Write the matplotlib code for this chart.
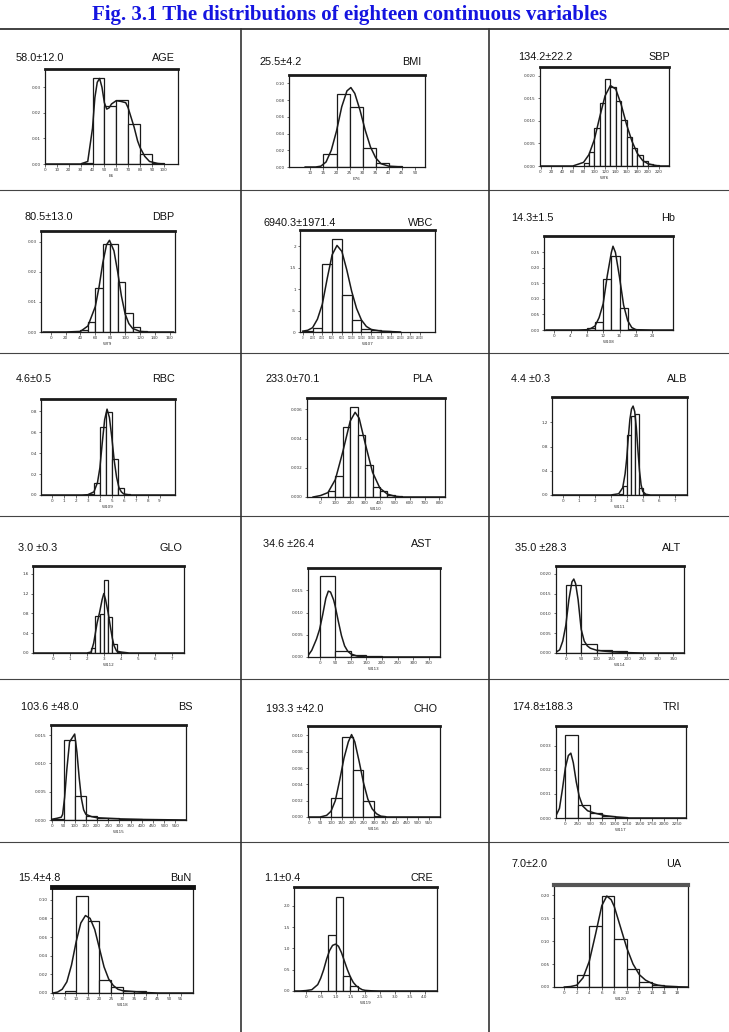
import numpy as np
import matplotlib
matplotlib.use("Agg")
import matplotlib.pyplot as plt
from matplotlib.lines import Line2D

# ---------------- data ----------------
title = "Fig. 3.1 The distributions of eighteen continuous variables"

names = ["AGE", "BMI", "SBP", "DBP", "WBC", "Hb", "RBC", "PLA", "ALB",
         "GLO", "AST", "ALT", "BS", "CHO", "TRI", "BuN", "CRE", "UA"]
stats = ["58.0±12.0", "25.5±4.2", "134.2±22.2", "80.5±13.0", "6940.3±1971.4",
         "14.3±1.5", "4.6±0.5", "233.0±70.1", "4.4 ±0.3", "3.0 ±0.3",
         "34.6 ±26.4", "35.0 ±28.3", "103.6 ±48.0", "193.3 ±42.0",
         "174.8±188.3", "15.4±4.8", "1.1±0.4", "7.0±2.0"]
xlabels = ["E6", "E76", "W76", "W79", "W107", "W108", "W109", "W110", "W111",
           "W112", "W113", "W114", "W115", "W116", "W117", "W118", "W119", "W120"]

age_edges = [30, 40, 50, 60, 70, 80, 90, 100]
age_dens = [0.0005, 0.0337, 0.0229, 0.0249, 0.0156, 0.0041, 0.0004]
age_cx = [0, 30, 36, 40, 42, 44, 46, 48, 50, 52, 54, 56, 60, 64, 68, 70, 72, 75, 78, 80, 84, 88, 95, 100]
age_cy = [0, 0, 0.001, 0.014, 0.026, 0.032, 0.0335, 0.030, 0.024, 0.0215, 0.022, 0.0235, 0.0248,
          0.0245, 0.024, 0.022, 0.019, 0.0145, 0.009, 0.0065, 0.003, 0.001, 0.0002, 0]

bmi_edges = [15, 20, 25, 30, 35, 40, 45]
bmi_dens = [0.0152, 0.0872, 0.072, 0.0232, 0.0048, 0.001]
bmi_cx = [8, 12, 14, 16, 18, 20, 22, 24, 25.5, 27, 29, 31, 33, 35, 37, 40, 45]
bmi_cy = [0, 0, 0.001, 0.006, 0.02, 0.043, 0.072, 0.091, 0.095, 0.088, 0.068, 0.044, 0.024, 0.011, 0.004, 0.001, 0]

sbp_edges = [80, 90, 100, 110, 120, 130, 140, 150, 160, 170, 180, 190, 200, 210, 220]
sbp_dens = [0.0007, 0.003, 0.0084, 0.014, 0.0192, 0.0175, 0.0144, 0.0102, 0.0064, 0.0039,
            0.0024, 0.0012, 0.0004, 0.0002]
sbp_cx = [0, 60, 80, 90, 100, 110, 120, 130, 140, 150, 160, 170, 180, 190, 200, 210, 220, 238]
sbp_cy = [0, 0, 0.0008, 0.0025, 0.0058, 0.0108, 0.0155, 0.0178, 0.017, 0.0136, 0.0092, 0.0055,
          0.0028, 0.0012, 0.0005, 0.0002, 0, 0]

dbp_edges = [40, 50, 60, 70, 80, 90, 100, 110, 120, 130]
dbp_dens = [0.0007, 0.0034, 0.0148, 0.0292, 0.0292, 0.0166, 0.0062, 0.0017, 0.0004]
dbp_cx = [-10, 20, 40, 50, 60, 65, 70, 75, 79, 85, 90, 95, 100, 105, 110, 120, 130, 165]
dbp_cy = [0, 0, 0.0002, 0.002, 0.0085, 0.015, 0.023, 0.029, 0.0305, 0.027, 0.02, 0.012, 0.006,
          0.0028, 0.0012, 0.0002, 0, 0]

wbc_edges = [0, 2000, 4000, 6000, 8000, 10000, 12000, 14000, 16000, 18000]
wbc_dens = [0.02, 0.10, 1.59, 2.18, 0.87, 0.27, 0.06, 0.04, 0.03]          # x 1e-4
wbc_cx = [0, 1000, 2000, 3000, 4000, 5000, 6000, 7000, 8000, 9000, 10000, 11000, 12000,
          13000, 14000, 16000, 18000, 20000]
wbc_cy = [0.02, 0.04, 0.1, 0.3, 0.65, 1.25, 1.8, 2.02, 1.88, 1.45, 0.95, 0.55, 0.28, 0.13,
          0.06, 0.02, 0.01, 0]

hb_edges = [8, 10, 12, 14, 16, 18, 20]
hb_dens = [0.0075, 0.027, 0.163, 0.240, 0.070, 0.002]
hb_cx = [-2, 6, 8, 9, 10, 11, 12, 13, 14, 14.4, 15, 16, 17, 18, 19, 20, 24, 29]
hb_cy = [0, 0, 0.001, 0.005, 0.013, 0.04, 0.085, 0.175, 0.25, 0.27, 0.25, 0.17, 0.08, 0.03,
         0.008, 0.001, 0, 0]

rbc_edges = [3.0, 3.5, 4.0, 4.5, 5.0, 5.5, 6.0, 6.5]
rbc_dens = [0.01, 0.111, 0.654, 0.797, 0.346, 0.067, 0.01]
rbc_cx = [-0.9, 2.5, 3, 3.5, 3.8, 4, 4.2, 4.4, 4.6, 4.8, 5, 5.2, 5.4, 5.6, 5.8, 6, 6.5, 10.3]
rbc_cy = [0, 0, 0.003, 0.03, 0.12, 0.26, 0.5, 0.72, 0.82, 0.74, 0.55, 0.33, 0.17, 0.07, 0.03,
          0.01, 0, 0]

pla_edges = [50, 100, 150, 200, 250, 300, 350, 400, 450, 500, 550]
pla_dens = [0.00043, 0.00146, 0.00478, 0.00617, 0.00423, 0.00222, 0.00071, 0.00039, 0.00016, 0.00005]
pla_cx = [-50, 0, 50, 100, 150, 200, 233, 260, 300, 350, 400, 450, 500, 550, 838]
pla_cy = [0, 0.0001, 0.0003, 0.0012, 0.0031, 0.0052, 0.0058, 0.0054, 0.0037, 0.0017, 0.0006,
          0.0002, 0.00005, 0, 0]

alb_edges = [3.5, 3.75, 4.0, 4.25, 4.5, 4.75, 5.0, 5.25]
alb_dens = [0.01, 0.143, 0.997, 1.31, 1.345, 0.116, 0.01]
alb_cx = [-0.67, 3.0, 3.5, 3.75, 3.9, 4.0, 4.1, 4.2, 4.3, 4.4, 4.5, 4.6, 4.7, 4.8, 4.9, 5.0,
          5.2, 5.5, 7.77]
alb_cy = [0, 0, 0.02, 0.12, 0.35, 0.6, 0.95, 1.25, 1.42, 1.47, 1.38, 1.12, 0.75, 0.4, 0.17,
          0.06, 0.01, 0, 0]

glo_edges = [2.25, 2.5, 2.75, 3.0, 3.25, 3.5, 3.75, 4.0, 4.25]
glo_dens = [0.10, 0.746, 0.793, 1.479, 0.726, 0.188, 0.03, 0.01]
glo_cx = [-1.18, 2.0, 2.25, 2.4, 2.5, 2.6, 2.75, 2.9, 3.0, 3.1, 3.25, 3.4, 3.5, 3.6, 3.75,
          4.0, 4.25, 4.5, 7.73]
glo_cy = [0, 0, 0.02, 0.2, 0.4, 0.6, 0.82, 1.08, 1.2, 1.08, 0.82, 0.5, 0.3, 0.15, 0.04, 0.02,
          0.01, 0, 0]

ast_edges = [0, 50, 100, 150, 200, 250, 300, 350, 400]
ast_dens = [0.0183, 0.00144, 0.00045, 0.00015, 0.0001, 0.00005, 0.00003, 0.00002]
ast_cx = [-37, -25, -10, 0, 10, 20, 28, 35, 45, 50, 60, 70, 80, 90, 100, 120, 150, 385]
ast_cy = [0.0003, 0.0015, 0.004, 0.0062, 0.0095, 0.0132, 0.0148, 0.0146, 0.0128, 0.0114,
          0.008, 0.0048, 0.0025, 0.0013, 0.0007, 0.0002, 0, 0]

alt_edges = [0, 50, 100, 150, 200, 250]
alt_dens = [0.0172, 0.0024, 0.0007, 0.0004, 0.0001]
alt_cx = [-32, -20, -10, 0, 10, 20, 26, 32, 40, 50, 60, 70, 80, 100, 120, 150, 200, 250, 385]
alt_cy = [0.0002, 0.0008, 0.003, 0.007, 0.0135, 0.018, 0.0187, 0.0175, 0.0135, 0.006, 0.003,
          0.0018, 0.0012, 0.0007, 0.0005, 0.0003, 0.0001, 0, 0]

bs_edges = [0, 50, 100, 150, 200, 250, 300, 350, 400, 450, 500, 550, 600]
bs_dens = [0.0002, 0.01415, 0.0043, 0.0007, 0.0004, 0.0004, 0.0001, 0.0001, 0.00005,
           0.00005, 0.00003, 0.00003]
bs_cx = [-6, 20, 40, 46, 55, 65, 77, 90, 100, 110, 120, 130, 140, 150, 175, 200, 250, 300, 400, 598]
bs_cy = [0.0001, 0.0003, 0.0005, 0.001, 0.004, 0.009, 0.0138, 0.0146, 0.0152, 0.012, 0.0075,
         0.0038, 0.0018, 0.001, 0.0006, 0.0004, 0.0003, 0.0002, 0.0001, 0]

cho_edges = [50, 100, 150, 200, 250, 300, 350]
cho_dens = [0.00002, 0.00234, 0.00984, 0.00582, 0.00193, 0.00016]
cho_cx = [-6, 50, 80, 100, 120, 140, 160, 180, 195, 210, 230, 250, 270, 290, 310, 330, 360, 603]
cho_cy = [0, 0, 0.0002, 0.0007, 0.002, 0.0045, 0.0072, 0.0092, 0.0101, 0.0092, 0.0068, 0.0042,
          0.0022, 0.001, 0.0004, 0.0001, 0, 0]

tri_edges = [0, 250, 500, 750, 1000, 1250]
tri_dens = [0.00346, 0.00053, 0.0002, 0.0001, 0.00004]
tri_cx = [-190, -120, -60, 0, 60, 110, 160, 220, 280, 350, 450, 600, 800, 1000, 1300, 2440]
tri_cy = [0.0001, 0.0004, 0.0012, 0.0021, 0.0026, 0.0027, 0.0023, 0.0015, 0.0009, 0.0005,
          0.0003, 0.0002, 0.0001, 0.00005, 0, 0]

bun_edges = [5, 10, 15, 20, 25, 30, 35, 40, 45]
bun_dens = [0.0025, 0.1036, 0.0768, 0.0143, 0.006, 0.002, 0.0018, 0.0003]
bun_cx = [-0.4, 0, 2, 4, 6, 8, 10, 12, 14, 16, 18, 20, 22, 24, 26, 28, 30, 35, 40, 45, 60]
bun_cy = [0, 0, 0.001, 0.004, 0.012, 0.03, 0.055, 0.075, 0.083, 0.08, 0.068, 0.048, 0.028,
          0.015, 0.008, 0.004, 0.0025, 0.0015, 0.0005, 0, 0]

cre_edges = [0.75, 1.0, 1.25, 1.5, 1.75]
cre_dens = [1.31, 2.21, 0.36, 0.117]
cre_cx = [-0.4, -0.2, 0, 0.2, 0.4, 0.5, 0.6, 0.7, 0.8, 0.9, 1.0, 1.1, 1.2, 1.3, 1.4, 1.5, 1.6,
          1.7, 1.8, 1.9, 2.0, 2.2, 2.5, 4.4]
cre_cy = [0, 0, 0.01, 0.03, 0.15, 0.3, 0.5, 0.75, 0.95, 1.07, 1.1, 1.05, 0.9, 0.7, 0.5, 0.33,
          0.2, 0.12, 0.07, 0.03, 0.015, 0.005, 0, 0]

ua_edges = [2, 4, 6, 8, 10, 12, 14, 16, 18]
ua_dens = [0.026, 0.133, 0.198, 0.104, 0.039, 0.011, 0.004, 0.0015]
ua_cx = [0, 1, 2, 3, 4, 5, 6, 6.8, 7.5, 8, 9, 10, 11, 12, 13, 14, 15, 16, 18, 19.8]
ua_cy = [0, 0.001, 0.004, 0.02, 0.056, 0.115, 0.177, 0.198, 0.19, 0.175, 0.13, 0.085, 0.05,
         0.027, 0.015, 0.008, 0.004, 0.002, 0.0005, 0]

# tick values / labels
age_xt = list(range(0, 101, 10)); age_yt = [0, 0.01, 0.02, 0.03]; age_ytl = ["0.00", "0.01", "0.02", "0.03"]
bmi_xt = list(range(10, 51, 5)); bmi_yt = [0, 0.02, 0.04, 0.06, 0.08, 0.10]; bmi_ytl = ["0.00", "0.02", "0.04", "0.06", "0.08", "0.10"]
sbp_xt = list(range(0, 221, 20)); sbp_yt = [0, 0.005, 0.010, 0.015, 0.020]; sbp_ytl = ["0.000", "0.005", "0.010", "0.015", "0.020"]
dbp_xt = list(range(0, 161, 20)); dbp_yt = [0, 0.01, 0.02, 0.03]; dbp_ytl = ["0.00", "0.01", "0.02", "0.03"]
wbc_xt = list(range(0, 24001, 2000)); wbc_yt = [0, 0.5, 1.0, 1.5, 2.0]; wbc_ytl = ["0", ".5", "1", "1.5", "2"]
hb_xt = [0, 4, 8, 12, 16, 20, 24]; hb_yt = [0, 0.05, 0.10, 0.15, 0.20, 0.25]; hb_ytl = ["0.00", "0.05", "0.10", "0.15", "0.20", "0.25"]
rbc_xt = list(range(0, 10)); rbc_yt = [0, 0.2, 0.4, 0.6, 0.8]; rbc_ytl = ["0.0", "0.2", "0.4", "0.6", "0.8"]
pla_xt = list(range(0, 801, 100)); pla_yt = [0, 0.002, 0.004, 0.006]; pla_ytl = ["0.000", "0.002", "0.004", "0.006"]
alb_xt = list(range(0, 8)); alb_yt = [0, 0.4, 0.8, 1.2]; alb_ytl = ["0.0", "0.4", "0.8", "1.2"]
glo_xt = list(range(0, 8)); glo_yt = [0, 0.4, 0.8, 1.2, 1.6]; glo_ytl = ["0.0", "0.4", "0.8", "1.2", "1.6"]
ast_xt = list(range(0, 351, 50)); ast_yt = [0, 0.005, 0.010, 0.015]; ast_ytl = ["0.000", "0.005", "0.010", "0.015"]
alt_xt = list(range(0, 351, 50)); alt_yt = [0, 0.005, 0.010, 0.015, 0.020]; alt_ytl = ["0.000", "0.005", "0.010", "0.015", "0.020"]
bs_xt = list(range(0, 551, 50)); bs_yt = [0, 0.005, 0.010, 0.015]; bs_ytl = ["0.000", "0.005", "0.010", "0.015"]
cho_xt = list(range(0, 551, 50)); cho_yt = [0, 0.002, 0.004, 0.006, 0.008, 0.010]; cho_ytl = ["0.000", "0.002", "0.004", "0.006", "0.008", "0.010"]
tri_xt = list(range(0, 2251, 250)); tri_yt = [0, 0.001, 0.002, 0.003]; tri_ytl = ["0.000", "0.001", "0.002", "0.003"]
bun_xt = list(range(0, 56, 5)); bun_yt = [0, 0.02, 0.04, 0.06, 0.08, 0.10]; bun_ytl = ["0.00", "0.02", "0.04", "0.06", "0.08", "0.10"]
cre_xt = [0, 0.5, 1.0, 1.5, 2.0, 2.5, 3.0, 3.5, 4.0]; cre_yt = [0, 0.5, 1.0, 1.5, 2.0]; cre_ytl = ["0.0", "0.5", "1.0", "1.5", "2.0"]
ua_xt = list(range(0, 19, 2)); ua_yt = [0, 0.05, 0.10, 0.15, 0.20]; ua_ytl = ["0.00", "0.05", "0.10", "0.15", "0.20"]

# ---------------- layout (pixels) ----------------
W, H = 729, 1032
layout = {
    "AGE": dict(box=(45, 178, 69, 164), xlim=(0, 112), ylim=(0, 0.0372), stat=(16, 58), name=(175, 58)),
    "BMI": dict(box=(289, 425, 75, 167), xlim=(1.8, 53.9), ylim=(0, 0.110), stat=(260, 62), name=(421, 62)),
    "SBP": dict(box=(540, 669, 67, 166), xlim=(-1, 239), ylim=(0, 0.0219), stat=(518, 57), name=(670, 57)),
    "DBP": dict(box=(41, 175, 231, 332), xlim=(-13, 167), ylim=(0, 0.0336), stat=(24, 217), name=(174, 217)),
    "WBC": dict(box=(300, 435, 230, 332), xlim=(-570, 27050), ylim=(0, 2.38), stat=(264, 223), name=(433, 223)),
    "Hb": dict(box=(544, 673, 236, 330), xlim=(-2.5, 29.1), ylim=(0, 0.303), stat=(511, 218), name=(675, 218)),
    "RBC": dict(box=(41, 175, 399, 495), xlim=(-0.94, 10.3), ylim=(0, 0.917), stat=(16, 379), name=(175, 379)),
    "PLA": dict(box=(307, 445, 398, 497), xlim=(-91, 838), ylim=(0, 0.00678), stat=(265, 379), name=(433, 379)),
    "ALB": dict(box=(552, 687, 397, 495), xlim=(-0.67, 7.77), ylim=(0, 1.62), stat=(511, 379), name=(687, 379)),
    "GLO": dict(box=(33, 184, 566, 653), xlim=(-1.18, 7.73), ylim=(0, 1.755), stat=(18, 548), name=(182, 548)),
    "AST": dict(box=(308, 440, 568, 657), xlim=(-37, 385), ylim=(0, 0.020), stat=(263, 544), name=(432, 544)),
    "ALT": dict(box=(556, 684, 566, 653), xlim=(-32, 385), ylim=(0, 0.022), stat=(515, 548), name=(681, 548)),
    "BS": dict(box=(51, 186, 725, 820), xlim=(-6, 598), ylim=(0, 0.0168), stat=(21, 707), name=(193, 707)),
    "CHO": dict(box=(308, 440, 726, 817), xlim=(-6, 603), ylim=(0, 0.01115), stat=(266, 709), name=(437, 709)),
    "TRI": dict(box=(556, 686, 726, 818), xlim=(-190, 2440), ylim=(0, 0.00383), stat=(512, 707), name=(680, 707)),
    "BuN": dict(box=(52, 193, 887, 993), xlim=(-0.4, 60.3), ylim=(0, 0.1136), stat=(18, 878), name=(191, 878)),
    "CRE": dict(box=(294, 437, 887, 991), xlim=(-0.4, 4.42), ylim=(0, 2.44), stat=(264, 878), name=(433, 878)),
    "UA": dict(box=(554, 688, 885, 987), xlim=(-1.65, 19.8), ylim=(0, 0.222), stat=(511, 864), name=(681, 864)),
}
top_lw = {"BuN": (3.5, "#111111"), "UA": (3.0, "#555555")}
tick_fs = {"WBC": 1.8}

series = {
    "AGE": (age_edges, age_dens, age_cx, age_cy, age_xt, age_yt, age_ytl),
    "BMI": (bmi_edges, bmi_dens, bmi_cx, bmi_cy, bmi_xt, bmi_yt, bmi_ytl),
    "SBP": (sbp_edges, sbp_dens, sbp_cx, sbp_cy, sbp_xt, sbp_yt, sbp_ytl),
    "DBP": (dbp_edges, dbp_dens, dbp_cx, dbp_cy, dbp_xt, dbp_yt, dbp_ytl),
    "WBC": (wbc_edges, wbc_dens, wbc_cx, wbc_cy, wbc_xt, wbc_yt, wbc_ytl),
    "Hb": (hb_edges, hb_dens, hb_cx, hb_cy, hb_xt, hb_yt, hb_ytl),
    "RBC": (rbc_edges, rbc_dens, rbc_cx, rbc_cy, rbc_xt, rbc_yt, rbc_ytl),
    "PLA": (pla_edges, pla_dens, pla_cx, pla_cy, pla_xt, pla_yt, pla_ytl),
    "ALB": (alb_edges, alb_dens, alb_cx, alb_cy, alb_xt, alb_yt, alb_ytl),
    "GLO": (glo_edges, glo_dens, glo_cx, glo_cy, glo_xt, glo_yt, glo_ytl),
    "AST": (ast_edges, ast_dens, ast_cx, ast_cy, ast_xt, ast_yt, ast_ytl),
    "ALT": (alt_edges, alt_dens, alt_cx, alt_cy, alt_xt, alt_yt, alt_ytl),
    "BS": (bs_edges, bs_dens, bs_cx, bs_cy, bs_xt, bs_yt, bs_ytl),
    "CHO": (cho_edges, cho_dens, cho_cx, cho_cy, cho_xt, cho_yt, cho_ytl),
    "TRI": (tri_edges, tri_dens, tri_cx, tri_cy, tri_xt, tri_yt, tri_ytl),
    "BuN": (bun_edges, bun_dens, bun_cx, bun_cy, bun_xt, bun_yt, bun_ytl),
    "CRE": (cre_edges, cre_dens, cre_cx, cre_cy, cre_xt, cre_yt, cre_ytl),
    "UA": (ua_edges, ua_dens, ua_cx, ua_cy, ua_xt, ua_yt, ua_ytl),
}

# ---------------- drawing ----------------
fig = plt.figure(figsize=(W / 100, H / 100), dpi=100)
fig.patch.set_facecolor("white")
INK = "#1a1a1a"
LABEL_FONT = ["Liberation Sans", "DejaVu Sans"]


def fx(x):
    return x / W


def fy(y):
    return 1 - y / H


# title
fig.text(fx(350), fy(15), title, ha="center", va="center", fontsize=15,
         fontweight="bold", family=["Liberation Serif", "DejaVu Serif"], color="#1414e0")

# table grid lines
fig.add_artist(Line2D([0, 1], [fy(29), fy(29)], lw=1.3, color="#333333",
                      transform=fig.transFigure))
for yy in (190, 353, 516, 679, 842):
    fig.add_artist(Line2D([0, 1], [fy(yy), fy(yy)], lw=0.8, color="#444444",
                          transform=fig.transFigure))
for xx in (241, 489):
    fig.add_artist(Line2D([fx(xx), fx(xx)], [fy(29), 0], lw=1.2, color="#333333",
                          transform=fig.transFigure))

for i, nm in enumerate(names):
    lay = layout[nm]
    edges, dens, cx, cy, xt, yt, ytl = series[nm]
    x0, x1, y0, y1 = lay["box"]
    ax = fig.add_axes([fx(x0), fy(y1), (x1 - x0) / W, (y1 - y0) / H])
    e = np.asarray(edges, dtype=float)
    ax.bar(e[:-1], dens, width=np.diff(e), align="edge", facecolor="white",
           edgecolor=INK, linewidth=0.9, zorder=2)
    ax.plot(cx, cy, color=INK, lw=1.1, zorder=3, solid_joinstyle="round")
    ax.set_xlim(*lay["xlim"])
    ax.set_ylim(*lay["ylim"])
    fs = tick_fs.get(nm, 3.0)
    ax.set_xticks(xt)
    ax.set_xticklabels([str(v) for v in xt], fontsize=fs, color="#333333")
    ax.set_yticks(yt)
    ax.set_yticklabels(ytl, fontsize=3.0, color="#333333")
    ax.tick_params(length=1.8, width=0.5, pad=1.2, colors="#333333")
    ax.set_xlabel(xlabels[i], fontsize=3.0, labelpad=1.5, color="#333333")
    for s in ("left", "bottom", "right"):
        ax.spines[s].set_linewidth(0.9)
        ax.spines[s].set_color(INK)
    tlw, tcol = top_lw.get(nm, (2.0, INK))
    ax.spines["top"].set_linewidth(tlw)
    ax.spines["top"].set_color(tcol)

    sx, sy = lay["stat"]
    fig.text(fx(sx), fy(sy), stats[i], ha="left", va="center", fontsize=7.8,
             family=LABEL_FONT, color="#111111")
    nx, ny = lay["name"]
    fig.text(fx(nx), fy(ny), nm, ha="right", va="center", fontsize=7.8,
             family=LABEL_FONT, color="#111111")

fig.savefig("out.png", dpi=100, facecolor="white")
